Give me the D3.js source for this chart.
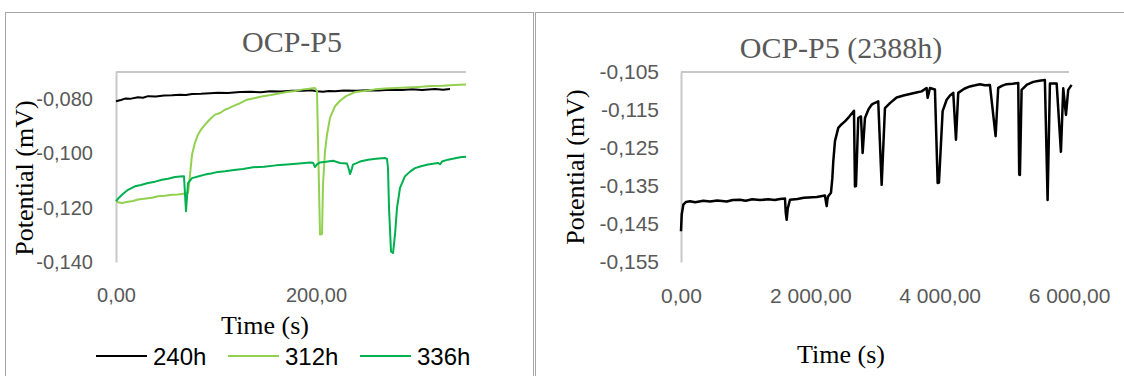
<!DOCTYPE html>
<html>
<head>
<meta charset="utf-8">
<script src="https://cdn.jsdelivr.net/npm/d3@7"></script>
<style>
    body { margin: 0; background: #fff; }
</style>
</head>
<body>
<div id="content"></div>
<script>
// left chart: OCP-P5, three runs
const leftTicksY = [-0.140, -0.120, -0.100, -0.080]
const leftTicksX = [0, 200]
const seriesNames = ['240h', '312h', '336h']

const p5_240h = [[0, -0.0808], [5, -0.0803], [9, -0.0798], [14, -0.0799], [22, -0.0793], [27, -0.0795], [32, -0.0789],
    [40, -0.0790], [48, -0.0787], [56, -0.0786], [64, -0.0784], [70, -0.0785], [76, -0.0781], [85, -0.0780],
    [94, -0.0778], [102, -0.0776], [112, -0.0777], [124, -0.0774], [135, -0.0773], [145, -0.0775], [154, -0.0771],
    [165, -0.0772], [176, -0.0769], [187, -0.0769], [195, -0.0767], [201, -0.0771], [207, -0.0773], [213, -0.0770],
    [219, -0.0771], [228, -0.0768], [240, -0.0769], [252, -0.0767], [262, -0.0768], [274, -0.0765], [286, -0.0766],
    [296, -0.0764], [306, -0.0766], [319, -0.0763], [327, -0.0765], [334, -0.0763]]

const p5_312h = [[0, -0.1176], [3, -0.1181], [6, -0.1183], [12, -0.1178], [17, -0.1175], [22, -0.1170], [30, -0.1166],
    [36, -0.1163], [42, -0.1158], [49, -0.1156], [56, -0.1152], [62, -0.1151], [69, -0.1148], [72, -0.1146],
    [74, -0.1080], [76, -0.1005], [79, -0.0960], [82, -0.0931], [85, -0.0912], [89, -0.0894], [94, -0.0874],
    [99, -0.0857], [104, -0.0851], [109, -0.0839], [113, -0.0833], [117, -0.0826], [124, -0.0815], [131, -0.0802],
    [139, -0.0796], [147, -0.0789], [155, -0.0785], [163, -0.0779], [171, -0.0774], [179, -0.0770], [187, -0.0764],
    [193, -0.0762], [199, -0.0759], [201, -0.0771], [202, -0.0950], [204, -0.1299], [206, -0.1297], [207, -0.1115],
    [209, -0.0992], [211, -0.0931], [214, -0.0869], [219, -0.0826], [224, -0.0806], [230, -0.0789], [239, -0.0774],
    [248, -0.0770], [259, -0.0764], [269, -0.0761], [280, -0.0759], [291, -0.0757], [302, -0.0755], [315, -0.0752],
    [327, -0.0751], [338, -0.0748], [350, -0.0746]]

const p5_336h = [[0, -0.1176], [3, -0.1163], [6, -0.1152], [12, -0.1134], [19, -0.1121], [25, -0.1116], [32, -0.1109],
    [39, -0.1104], [46, -0.1097], [52, -0.1093], [59, -0.1087], [64, -0.1085], [68, -0.1084], [69, -0.1150],
    [70, -0.1213], [71, -0.1160], [72, -0.1109], [76, -0.1091], [82, -0.1085], [89, -0.1078], [95, -0.1074],
    [102, -0.1068], [109, -0.1066], [118, -0.1061], [127, -0.1057], [137, -0.1051], [148, -0.1049], [160, -0.1044],
    [171, -0.1041], [183, -0.1037], [194, -0.1033], [197, -0.1034], [199, -0.1050], [201, -0.1040], [204, -0.1033],
    [210, -0.1031], [217, -0.1027], [224, -0.1035], [231, -0.1037], [233, -0.1060], [234, -0.1076], [236, -0.1055],
    [237, -0.1041], [244, -0.1030], [252, -0.1023], [260, -0.1020], [269, -0.1017], [271, -0.1020], [272, -0.1054],
    [273, -0.1200], [275, -0.1361], [277, -0.1367], [279, -0.1299], [281, -0.1201], [284, -0.1127], [289, -0.1084],
    [294, -0.1067], [299, -0.1054], [305, -0.1047], [312, -0.1041], [322, -0.1035], [324, -0.1040], [326, -0.1030],
    [332, -0.1023], [338, -0.1019], [344, -0.1014], [350, -0.1012]]

// right chart: OCP-P5 (2388h)
const rightTicksY = [-0.155, -0.145, -0.135, -0.125, -0.115, -0.105]
const rightTicksX = [0, 2000, 4000, 6000]

const p5_2388h = [[0, -0.1469], [11, -0.1425], [36, -0.1399], [77, -0.1392], [139, -0.1390], [220, -0.1393],
    [345, -0.1389], [450, -0.1391], [560, -0.1388], [707, -0.1391], [800, -0.1387], [912, -0.1386], [1000, -0.1389],
    [1100, -0.1385], [1221, -0.1387], [1350, -0.1385], [1450, -0.1387], [1531, -0.1384], [1608, -0.1383],
    [1620, -0.1420], [1634, -0.1439], [1650, -0.1410], [1685, -0.1386], [1800, -0.1384], [1900, -0.1381],
    [1968, -0.1380], [2100, -0.1379], [2226, -0.1375], [2240, -0.1390], [2253, -0.1403], [2265, -0.1385],
    [2277, -0.1377], [2319, -0.1368], [2340, -0.1330], [2355, -0.1285], [2381, -0.1232], [2432, -0.1197],
    [2480, -0.1188], [2535, -0.1180], [2600, -0.1168], [2675, -0.1152], [2690, -0.1351], [2706, -0.1350],
    [2741, -0.1171], [2783, -0.1167], [2809, -0.1263], [2845, -0.1171], [2900, -0.1148], [2948, -0.1136],
    [3000, -0.1131], [3050, -0.1127], [3103, -0.1347], [3154, -0.1145], [3231, -0.1132], [3335, -0.1117],
    [3440, -0.1112], [3540, -0.1108], [3640, -0.1104], [3721, -0.1101], [3798, -0.1092], [3814, -0.1118],
    [3850, -0.1092], [3927, -0.1096], [3969, -0.1342], [3989, -0.1341], [4046, -0.1153], [4108, -0.1123],
    [4160, -0.1112], [4210, -0.1105], [4252, -0.1228], [4287, -0.1105], [4380, -0.1094], [4468, -0.1088],
    [4550, -0.1085], [4623, -0.1082], [4700, -0.1085], [4777, -0.1084], [4865, -0.1219], [4905, -0.1092],
    [4970, -0.1086], [5035, -0.1082], [5130, -0.1081], [5215, -0.1079], [5230, -0.1320], [5241, -0.1321],
    [5267, -0.1097], [5350, -0.1083], [5447, -0.1076], [5540, -0.1073], [5627, -0.1071], [5669, -0.1387],
    [5705, -0.1080], [5809, -0.1080], [5875, -0.1260], [5911, -0.1093], [5953, -0.1163], [5988, -0.1097],
    [6040, -0.1084]]

const seriesColors = ['#000000', '#92d050', '#00b050']

const locale = d3.formatLocale({ decimal: ',', thousands: '\u00a0', grouping: [3], currency: ['', ''], minus: '-' })
const fmtY = locale.format('.3f')
const fmtX = locale.format(',.2f')

const sansFont = '"Liberation Sans", Arial, sans-serif'
const serifFont = '"Liberation Serif", "Times New Roman", serif'
const plotTop = 72
const plotBottom = 262

const svg = d3.select('#content')
    .append('svg')
    .attr('width', 1124)
    .attr('height', 376)

// chart area frames
svg.append('rect')
    .attr('x', 5.5).attr('y', 12.5)
    .attr('width', 528).attr('height', 420)
    .attr('fill', 'none')
    .attr('stroke', '#a6a6a6')
    .attr('stroke-width', 1)

svg.append('rect')
    .attr('x', 535.5).attr('y', 12.5)
    .attr('width', 620).attr('height', 420)
    .attr('fill', 'none')
    .attr('stroke', '#a6a6a6')
    .attr('stroke-width', 1)

const chart = (cfg) => {
    const g = svg.append('g')

    const x = d3.scaleLinear()
        .domain(cfg.xDomain)
        .range(cfg.xRange)

    const y = d3.scaleLinear()
        .domain(cfg.yDomain)
        .range([plotBottom, plotTop])

    // horizontal axis crosses at the top (all values negative)
    g.append('line')
        .attr('x1', x(cfg.xDomain[0]))
        .attr('x2', x(cfg.xDomain[1]))
        .attr('y1', y(cfg.yDomain[1]))
        .attr('y2', y(cfg.yDomain[1]))
        .attr('stroke', '#c8c8c8')
        .attr('stroke-width', 2)

    const yAxis = g.append('g')
        .attr('transform', `translate(${cfg.xRange[0]},0)`)
        .call(d3.axisLeft(y).tickValues(cfg.yTicks).tickSize(0).tickPadding(cfg.yPad).tickFormat(fmtY))
    yAxis.select('.domain')
        .attr('stroke', '#c8c8c8')
        .attr('stroke-width', 2)
    yAxis.selectAll('text')
        .attr('font-family', sansFont)
        .attr('font-size', cfg.tickSize)
        .attr('fill', '#595959')

    const xAxis = g.append('g')
        .attr('transform', `translate(0,${plotBottom})`)
        .call(d3.axisBottom(x).tickValues(cfg.xTicks).tickSize(0).tickPadding(26).tickFormat(fmtX))
    xAxis.select('.domain').remove()
    xAxis.selectAll('text')
        .attr('font-family', sansFont)
        .attr('font-size', cfg.tickSize)
        .attr('fill', '#595959')

    const line = d3.line()
        .x(d => x(d[0]))
        .y(d => y(d[1]))

    g.selectAll('path.series')
        .data(cfg.series)
        .join('path')
        .attr('class', 'series')
        .attr('d', d => line(d.values))
        .attr('fill', 'none')
        .attr('stroke', d => d.color)
        .attr('stroke-width', cfg.lineWidth)
        .attr('stroke-linejoin', 'round')

    // titles
    g.append('text')
        .text(cfg.title)
        .attr('x', cfg.titleX)
        .attr('y', cfg.titleY)
        .attr('text-anchor', 'middle')
        .attr('font-family', serifFont)
        .attr('font-size', 30)
        .attr('fill', '#595959')

    g.append('text')
        .text('Potential (mV)')
        .attr('transform', `translate(${cfg.yTitleX},${cfg.yTitleY}) rotate(-90)`)
        .attr('text-anchor', 'middle')
        .attr('font-family', serifFont)
        .attr('font-size', 26)
        .attr('fill', '#000')

    g.append('text')
        .text('Time (s)')
        .attr('x', cfg.xTitleX)
        .attr('y', cfg.xTitleY)
        .attr('text-anchor', 'middle')
        .attr('font-family', serifFont)
        .attr('font-size', 26)
        .attr('fill', '#000')
}

chart({
    xDomain: [0, 350],
    xRange: [116, 466],
    yDomain: [-0.140, -0.070],
    xTicks: leftTicksX,
    yTicks: leftTicksY,
    yPad: 23,
    tickSize: 20,
    lineWidth: 2,
    series: [
        { name: seriesNames[0], color: seriesColors[0], values: p5_240h },
        { name: seriesNames[1], color: seriesColors[1], values: p5_312h },
        { name: seriesNames[2], color: seriesColors[2], values: p5_336h }
    ],
    title: 'OCP-P5',
    titleX: 292,
    titleY: 52,
    yTitleX: 33,
    yTitleY: 178,
    xTitleX: 265,
    xTitleY: 334
})

chart({
    xDomain: [0, 6000],
    xRange: [681, 1069],
    yDomain: [-0.155, -0.105],
    xTicks: rightTicksX,
    yTicks: rightTicksY,
    yPad: 22,
    tickSize: 21,
    lineWidth: 2.5,
    series: [{ name: '2388h', color: '#000000', values: p5_2388h }],
    title: 'OCP-P5 (2388h)',
    titleX: 841,
    titleY: 58,
    yTitleX: 584,
    yTitleY: 167,
    xTitleX: 841,
    xTitleY: 363
})

// legend of the left chart
const legendX = d3.scaleOrdinal()
    .domain(seriesNames)
    .range([96, 228, 360])

const legend = svg.append('g')
    .attr('id', 'legend')

legend.selectAll('line')
    .data(seriesNames)
    .join('line')
    .attr('x1', d => legendX(d))
    .attr('x2', d => legendX(d) + 51)
    .attr('y1', 356)
    .attr('y2', 356)
    .attr('stroke', (d, i) => seriesColors[i])
    .attr('stroke-width', 2)

legend.selectAll('text')
    .data(seriesNames)
    .join('text')
    .text(d => d)
    .attr('x', d => legendX(d) + 57)
    .attr('y', 365)
    .attr('font-family', sansFont)
    .attr('font-size', 24)
    .attr('fill', '#000')
</script>
</body>
</html>
